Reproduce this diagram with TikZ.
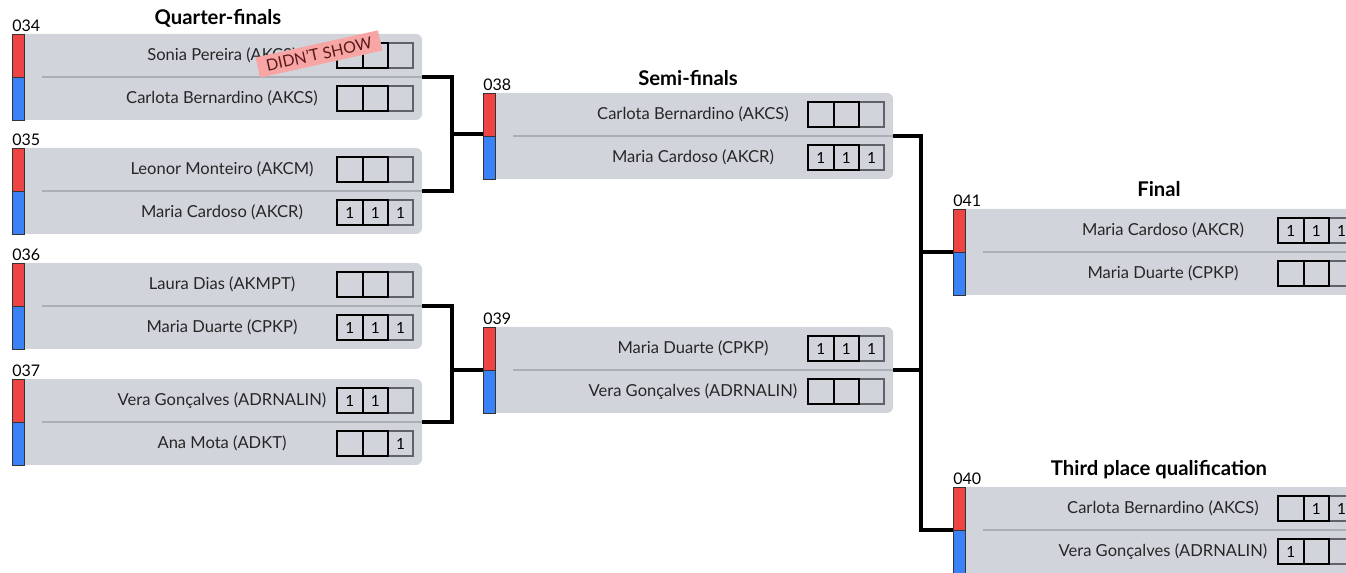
\documentclass[tikz,border=0pt]{standalone}
\usepackage{fontspec}
\setmainfont{Lato}
\usetikzlibrary{calc}
\definecolor{boxgray}{HTML}{D1D5DB}
\definecolor{sepgray}{HTML}{AAAEB5}
\definecolor{redbar}{HTML}{EF4444}
\definecolor{bluebar}{HTML}{3B82F6}
\definecolor{stampfill}{HTML}{F8A5A5}
\definecolor{stamptext}{HTML}{5A1A1A}
\definecolor{thirdgray}{HTML}{5F6368}
\def\u{0.75pt}
\tikzset{
  matchbg/.style={fill=boxgray, draw=none, rounded corners=4.5pt, minimum width=307.5pt, minimum height=64.5pt, anchor=north west, inner sep=0pt, outer sep=0pt},
  barline/.style={draw=black!80, line width=0.6pt},
  sepline/.style={draw=sepgray, line width=0.8pt},
  pname/.style={font=\fontsize{12.4}{14}\selectfont, text=black!85, inner sep=0pt},
  numlabel/.style={font=\fontsize{12}{14}\selectfont, anchor=south west, inner sep=0pt},
  roundtitle/.style={font=\fontsize{15.2}{17}\selectfont\bfseries, inner sep=0pt},
  scoreA/.style={draw=black, line width=1.5pt},
  scoreC/.style={draw=thirdgray, line width=0.9pt},
  scoretxt/.style={font=\fontsize{11.5}{13}\selectfont, inner sep=0pt},
  conn/.style={draw=black, line width=2.4pt},
  stampbox/.style={fill=stampfill, text=stamptext, font=\fontsize{12}{14}\selectfont, minimum width=94pt, minimum height=15.5pt, inner sep=0pt},
}
\newcommand\drawmatch[6]{%
  \node[matchbg] (m#1) at (#2,#3) {};
  \fill[redbar] (#2,#3) rectangle ({#2+12},{#3+43});
  \draw[barline] (#2,#3) rectangle ({#2+12},{#3+43});
  \fill[bluebar] (#2,{#3+43}) rectangle ({#2+12},{#3+86});
  \draw[barline] (#2,{#3+43}) rectangle ({#2+12},{#3+86});
  \draw[sepline] ({#2+30},{#3+43}) -- ({#2+410},{#3+43});
  \node[numlabel] (n#1) at (#2,{#3-2}) {#4};
  \node[pname] (m#1a) at ({#2+210},{#3+21.5}) {#5};
  \node[pname] (m#1b) at ({#2+210},{#3+64.5}) {#6};
}
\newcommand\scores[6]{%
  \draw[scoreC] ({#2+376},{#3-12.5}) rectangle ({#2+401},{#3+12.5});
  \draw[scoreA] ({#2+325},{#3-12.5}) rectangle ({#2+350.5},{#3+12.5});
  \draw[scoreA] ({#2+350.5},{#3-12.5}) rectangle ({#2+376},{#3+12.5});
  \node[scoretxt] (#1x) at ({#2+337.75},#3) {#4};
  \node[scoretxt] (#1y) at ({#2+363.25},#3) {#5};
  \node[scoretxt] (#1z) at ({#2+388.5},#3) {#6};
}
\begin{document}
\begin{tikzpicture}[x=0.75pt,y=-0.75pt]
\useasboundingbox (0,0) rectangle (1346,573);
\clip (0,0) rectangle (1346,573);
% titles
\node[roundtitle] (t1) at (218,18) {Quarter-finals};
\node[roundtitle] (t2) at (688,78) {Semi-finals};
\node[roundtitle] (t3) at (1159,189) {Final};
\node[roundtitle] (t4) at (1159,470) {Third place qualification};
% quarter-finals
\drawmatch{034}{12}{34}{034}{Sonia Pereira (AKCS)}{Carlota Bernardino (AKCS)}
\scores{s034a}{12}{55.5}{}{}{}
\scores{s034b}{12}{98.5}{}{}{}
\drawmatch{035}{12}{148}{035}{Leonor Monteiro (AKCM)}{Maria Cardoso (AKCR)}
\scores{s035a}{12}{169.5}{}{}{}
\scores{s035b}{12}{212.5}{1}{1}{1}
\drawmatch{036}{12}{263}{036}{Laura Dias (AKMPT)}{Maria Duarte (CPKP)}
\scores{s036a}{12}{284.5}{}{}{}
\scores{s036b}{12}{327.5}{1}{1}{1}
\drawmatch{037}{12}{379}{037}{Vera Gonçalves (ADRNALIN)}{Ana Mota (ADKT)}
\scores{s037a}{12}{400.5}{1}{1}{}
\scores{s037b}{12}{443.5}{}{}{1}
% semi-finals
\drawmatch{038}{483}{93}{038}{Carlota Bernardino (AKCS)}{Maria Cardoso (AKCR)}
\scores{s038a}{483}{114.5}{}{}{}
\scores{s038b}{483}{157.5}{1}{1}{1}
\drawmatch{039}{483}{327}{039}{Maria Duarte (CPKP)}{Vera Gonçalves (ADRNALIN)}
\scores{s039a}{483}{348.5}{1}{1}{1}
\scores{s039b}{483}{391.5}{}{}{}
% final and third place
\drawmatch{041}{953}{209}{041}{Maria Cardoso (AKCR)}{Maria Duarte (CPKP)}
\scores{s041a}{953}{230.5}{1}{1}{1}
\scores{s041b}{953}{273.5}{}{}{}
\drawmatch{040}{953}{487}{040}{Carlota Bernardino (AKCS)}{Vera Gonçalves (ADRNALIN)}
\scores{s040a}{953}{508.5}{}{1}{1}
\scores{s040b}{953}{551.5}{1}{}{}
% stamp
\node[stampbox, rotate=12.5] (dns) at (319,54) {DIDN'T SHOW};
% connectors
\coordinate (j1) at (452,134);
\coordinate (j2) at (452,370);
\coordinate (j3) at (921,253);
\draw[conn] (m034.east) -- (m034.east -| j1) -- (m035.east -| j1) -- (m035.east);
\draw[conn] (j1) -- (j1 -| m038.west);
\draw[conn] (m036.east) -- (m036.east -| j2) -- (m037.east -| j2) -- (m037.east);
\draw[conn] (j2) -- (j2 -| m039.west);
\draw[conn] (m038.east) -- (m038.east -| j3) -- (m040.west -| j3) -- (m040.west);
\draw[conn] (m039.east) -- (m039.east -| j3);
\draw[conn] (j3 |- m041.west) -- (m041.west);
\end{tikzpicture}
\end{document}
